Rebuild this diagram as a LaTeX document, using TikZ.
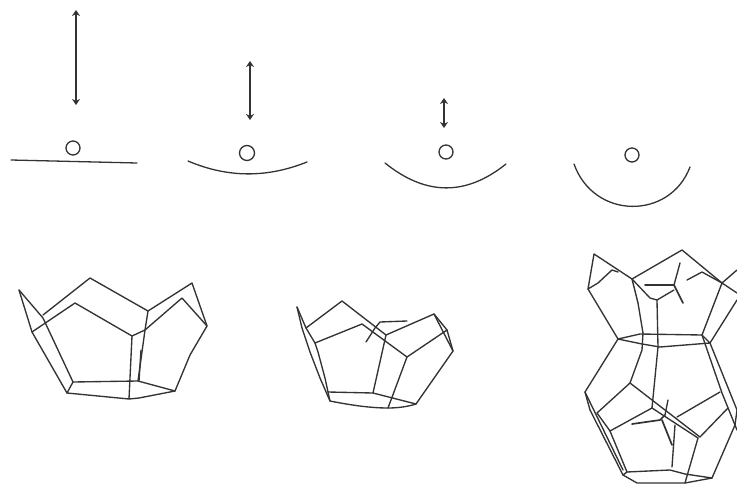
\documentclass[tikz,border=0pt]{standalone}
\usetikzlibrary{arrows.meta}
\definecolor{ink}{gray}{0.2}
\tikzset{
 wire/.style={draw=ink,line width=1.35pt,line join=round,line cap=round},
 dist/.style={draw=ink,line width=1.5pt,{Stealth[length=6pt,width=8pt]}-{Stealth[length=6pt,width=8pt]}},
 ball/.style={circle,draw=ink,line width=1.3pt,minimum size=14pt,inner sep=0pt},
 membrane/.style={draw=ink,line width=1.3pt,line cap=round}
}
\begin{document}
\begin{tikzpicture}[x=1pt,y=-1pt]
\useasboundingbox (0,0) rectangle (737,485);
\clip (0,0) rectangle (737,485);
% top row
\coordinate (a1t) at (76,10); \coordinate (a1b) at (76,105);
\coordinate (a2t) at (250,61); \coordinate (a2b) at (250,120);
\coordinate (a3t) at (444,98); \coordinate (a3b) at (444,128);
\draw[dist] (a1t) -- (a1b);
\draw[dist] (a2t) -- (a2b);
\draw[dist] (a3t) -- (a3b);
\node[ball] (b1) at (73,148) {};
\node[ball,minimum size=15pt] (b2) at (247,153) {};
\node[ball] (b3) at (446,152) {};
\node[ball] (b4) at (632,155) {};
\draw[membrane] (11,160) -- (137,163);
\draw[membrane] (188,161) .. controls (228,178) and (267,178) .. (307,162);
\draw[membrane] (385,163) .. controls (426,196) and (466,196) .. (506,164);
\draw[membrane] (574,164) .. controls (594,220) and (670,220) .. (690,167);
% clathrate 1
\draw[wire] (19,290) -- (43,318) -- (73,382) -- (138,381) -- (175,391);
\draw[wire] (43,315) -- (90,278) -- (148,311) -- (192,283) -- (207,326) -- (190,355) -- (175,391) -- (139,398) -- (129,399) -- (67,393) -- (32,332) -- (75,303) -- (132,336) -- (129,399);
\draw[wire] (32,332) -- (19,290);
\draw[wire] (67,393) -- (73,382);
\draw[wire] (148,311) -- (145,330) -- (138,381);
\draw[wire] (141,350) -- (139,381);
\draw[wire] (132,336) -- (145,330) -- (182,298) -- (207,326);
% clathrate 2
\draw[wire] (306,328) -- (315,343) -- (318,352) -- (325,378) -- (328,392) -- (373,393) -- (416,404);
\draw[wire] (297,307) -- (302,328) -- (310,352) -- (320,378) -- (330,401) .. controls (350,405) and (370,408) .. (388,408) .. controls (400,408) and (410,406) .. (416,404);
\draw[wire] (297,307) -- (306,328) -- (342,301) -- (386,335) -- (434,314) -- (453,351) -- (416,404);
\draw[wire] (315,343) -- (362,324) -- (407,357) -- (447,330) -- (453,351);
\draw[wire] (434,314) -- (447,330);
\draw[wire] (407,357) -- (388,408);
\draw[wire] (386,335) -- (373,393);
\draw[wire] (328,392) -- (330,401);
\draw[wire] (407,321) -- (380,322) -- (375,328) -- (366,342);
% clathrate 3 upper
\draw[wire] (598,283) -- (588,289) -- (594,254) -- (632,279) -- (682,250) -- (722,283) -- (737,270);
\draw[wire] (588,289) -- (618,339) -- (640,334) -- (702,335) -- (722,283) -- (737,293);
\draw[wire] (598,283) -- (612,270) -- (618,272);
\draw[wire] (618,339) -- (642,344) -- (660,347) -- (710,343) -- (702,335);
\draw[wire] (710,343) -- (737,300);
\draw[wire] (632,279) -- (638,303) -- (643,333);
\draw[wire] (632,279) -- (650,298) -- (657,300) -- (658,347);
\draw[wire] (657,300) -- (674,290);
\draw[wire,line width=1.7pt] (645,285) -- (674,285) -- (683,303);
\draw[wire] (674,285) -- (680,263);
\draw[wire] (687,280) -- (702,272) -- (722,283);
% clathrate 3 lower
\draw[wire] (618,339) -- (585,392) -- (590,410) -- (623,475);
\draw[wire] (585,392) -- (623,470);
\draw[wire] (597,413) -- (610,431) -- (627,472);
\draw[wire] (643,333) -- (642,350) -- (630,383) -- (597,413);
\draw[wire] (658,347) -- (652,408) -- (610,431);
\draw[wire] (630,383) -- (700,437);
\draw[wire] (652,408) -- (698,438);
\draw[wire] (700,437) -- (728,408);
\draw[wire] (698,438) -- (685,483);
\draw[wire] (702,335) -- (722,393) -- (737,430);
\draw[wire] (710,343) -- (737,410) -- (735,425) -- (712,478);
\draw[wire] (677,417) -- (720,392);
\draw[wire] (668,400) -- (665,415);
\draw[wire,line width=1.7pt] (632,424) -- (660,420) -- (665,415);
\draw[wire,line width=1.7pt] (662,420) -- (672,445);
\draw[wire] (675,425) -- (672,467);
\draw[wire] (627,472) -- (670,470) -- (685,474) -- (712,478);
\draw[wire] (623,475) -- (627,472);
\draw[wire] (623,475) -- (637,483) -- (685,483) -- (712,478);
\end{tikzpicture}
\end{document}
